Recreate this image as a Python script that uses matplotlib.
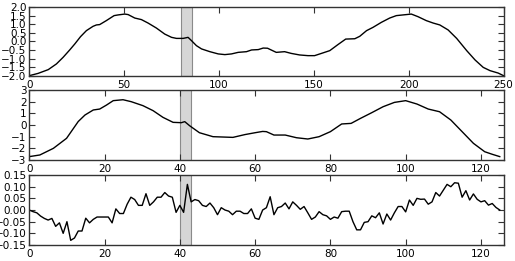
import matplotlib
matplotlib.use("Agg")
import matplotlib.pyplot as plt

# ---- data ----
top_x = [0, 4.6, 10, 14.3, 17.8, 21.3, 24, 27, 30.1, 33.6, 35.4, 37.1, 40.6, 44.7, 46.8,
         50.3, 52.1, 55.6, 59.1, 62.6, 67, 71.4, 75, 77.6, 81.1, 83.7, 85.5, 88.1, 90.8,
         95.2, 99.6, 103.1, 106.6, 110.1, 114.5, 117.2, 120.7, 123.3, 125.6, 127.5,
         130.2, 134.6, 138.1, 142.5, 146.9, 150.4, 154, 158.4, 162.7, 166.8, 171.6,
         174.2, 177.8, 181.2, 185.6, 190, 193.5, 197, 201.4, 204.9, 209.3, 212.9,
         216.4, 220.8, 225.3, 230.6, 235, 239.3, 242.9, 247.2, 250]
top_y = [-1.98, -1.85, -1.63, -1.30, -0.92, -0.49, -0.14, 0.28, 0.63, 0.88, 0.96, 0.98,
         1.21, 1.50, 1.54, 1.59, 1.56, 1.36, 1.27, 1.07, 0.78, 0.43, 0.24, 0.18, 0.18,
         0.24, 0.05, -0.24, -0.43, -0.59, -0.72, -0.76, -0.72, -0.63, -0.59, -0.49,
         -0.47, -0.38, -0.39, -0.49, -0.63, -0.59, -0.69, -0.78, -0.82, -0.82, -0.69,
         -0.53, -0.18, 0.14, 0.16, 0.30, 0.63, 0.82, 1.11, 1.36, 1.50, 1.54, 1.59, 1.44,
         1.21, 1.07, 0.96, 0.67, 0.18, -0.53, -1.07, -1.50, -1.69, -1.83, -1.98]

mid_x = [0, 2.8, 6.4, 9.9, 13, 14.8, 17, 18.7, 20.5, 22.3, 24.9, 27.1, 30.2, 32.9,
         35.5, 38.2, 40.4, 41.3, 42.6, 45.2, 48.8, 54.1, 57.3, 60, 62, 63, 65, 68, 71,
         74, 77, 80, 83, 85.5, 88, 91, 94, 97, 100, 103, 106, 109, 112, 115, 118, 121,
         123, 125]
mid_y = [-2.71, -2.57, -2.0, -1.14, 0.30, 0.86, 1.29, 1.37, 1.71, 2.09, 2.17, 2.0,
         1.66, 1.23, 0.66, 0.23, 0.20, 0.29, -0.06, -0.66, -1.0, -1.06, -0.82, -0.66,
         -0.55, -0.57, -0.86, -0.86, -1.09, -1.20, -1.00, -0.57, 0.09, 0.14, 0.57, 1.06,
         1.57, 1.94, 2.09, 1.80, 1.37, 1.14, 0.43, -0.57, -1.57, -2.29, -2.51, -2.71]

bot_y = [0.000, -0.007, -0.012, -0.026, -0.036, -0.043, -0.036, -0.070, -0.055, -0.100,
         -0.050, -0.130, -0.120, -0.090, -0.090, -0.035, -0.055, -0.040, -0.030, -0.030,
         -0.030, -0.030, -0.055, 0.005, -0.015, -0.015, 0.025, 0.055, 0.045, 0.020,
         0.020, 0.070, 0.020, 0.035, 0.055, 0.055, 0.075, 0.060, 0.055, -0.010,
         0.020, -0.010, 0.110, 0.035, 0.045, 0.040, 0.020, 0.015, 0.030, 0.010,
         -0.020, 0.010, 0.000, -0.005, -0.020, -0.005, -0.005, -0.015, -0.015, 0.005,
         -0.035, -0.040, 0.000, 0.010, 0.057, -0.020, 0.010, 0.015, 0.030, 0.005,
         0.035, 0.020, 0.003, 0.015, -0.012, -0.040, -0.030, -0.007, -0.020, -0.025,
         -0.040, -0.030, -0.035, -0.007, -0.005, -0.005, -0.050, -0.085, -0.085, -0.053,
         -0.050, -0.025, -0.033, -0.012, -0.060, -0.017, -0.043, -0.012, 0.015, 0.015,
         -0.008, 0.043, 0.020, 0.050, 0.046, 0.047, 0.025, 0.035, 0.075, 0.060,
         0.085, 0.110, 0.100, 0.117, 0.115, 0.055, 0.083, 0.043, 0.069, 0.046,
         0.035, 0.040, 0.021, 0.028, 0.011, 0.000]
bot_x = list(range(len(bot_y)))

top_span = (80, 86)
low_span = (40, 43)

top_yticks = [-2.0, -1.5, -1.0, -0.5, 0.0, 0.5, 1.0, 1.5, 2.0]
mid_yticks = [-3, -2, -1, 0, 1, 2, 3]
bot_yticks = [-0.15, -0.10, -0.05, 0.00, 0.05, 0.10, 0.15]
top_xticks = [0, 50, 100, 150, 200, 250]
low_xticks = [0, 20, 40, 60, 80, 100, 120]

# ---- plotting ----
plt.rcParams['font.family'] = 'DejaVu Sans'
plt.rcParams['xtick.direction'] = 'in'
plt.rcParams['ytick.direction'] = 'in'
plt.rcParams['xtick.top'] = True
plt.rcParams['ytick.right'] = True
plt.rcParams['xtick.major.size'] = 4
plt.rcParams['ytick.major.size'] = 4
plt.rcParams['xtick.major.pad'] = 3
plt.rcParams['ytick.major.pad'] = 2

fig = plt.figure(figsize=(5.15, 2.61), dpi=100, facecolor='white')
left, width = 0.0569, 0.9208
ax1 = fig.add_axes([left, 0.7088, width, 0.2644])
ax2 = fig.add_axes([left, 0.3870, width, 0.2680])
ax3 = fig.add_axes([left, 0.0613, width, 0.2680])

fs = 7.5
span_kw = dict(facecolor='#d6d6d6', edgecolor='#8a8a8a', linewidth=0.8, zorder=0)

ax1.plot(top_x, top_y, color='black', lw=1.0)
ax1.axvspan(*top_span, **span_kw)
ax1.set_xlim(0, 250)
ax1.set_ylim(-2.0, 2.0)
ax1.set_xticks(top_xticks)
ax1.set_yticks(top_yticks)
ax1.set_yticklabels([f"{v:.1f}".replace('-', '\u2212') for v in top_yticks])

ax2.plot(mid_x, mid_y, color='black', lw=1.0)
ax2.axvspan(*low_span, **span_kw)
ax2.set_xlim(0, 126)
ax2.set_ylim(-3, 3)
ax2.set_xticks(low_xticks)
ax2.set_yticks(mid_yticks)

ax3.plot(bot_x, bot_y, color='black', lw=1.0)
ax3.axvspan(*low_span, **span_kw)
ax3.set_xlim(0, 126)
ax3.set_ylim(-0.15, 0.15)
ax3.set_xticks(low_xticks)
ax3.set_yticks(bot_yticks)
ax3.set_yticklabels([f"{v:.2f}".replace('-', '\u2212') for v in bot_yticks])

for ax in (ax1, ax2, ax3):
    ax.tick_params(labelsize=fs, width=0.8, color='#333333')
    for s in ax.spines.values():
        s.set_linewidth(1.0)
        s.set_color('#333333')

fig.savefig('out.png', dpi=100, facecolor='white')
